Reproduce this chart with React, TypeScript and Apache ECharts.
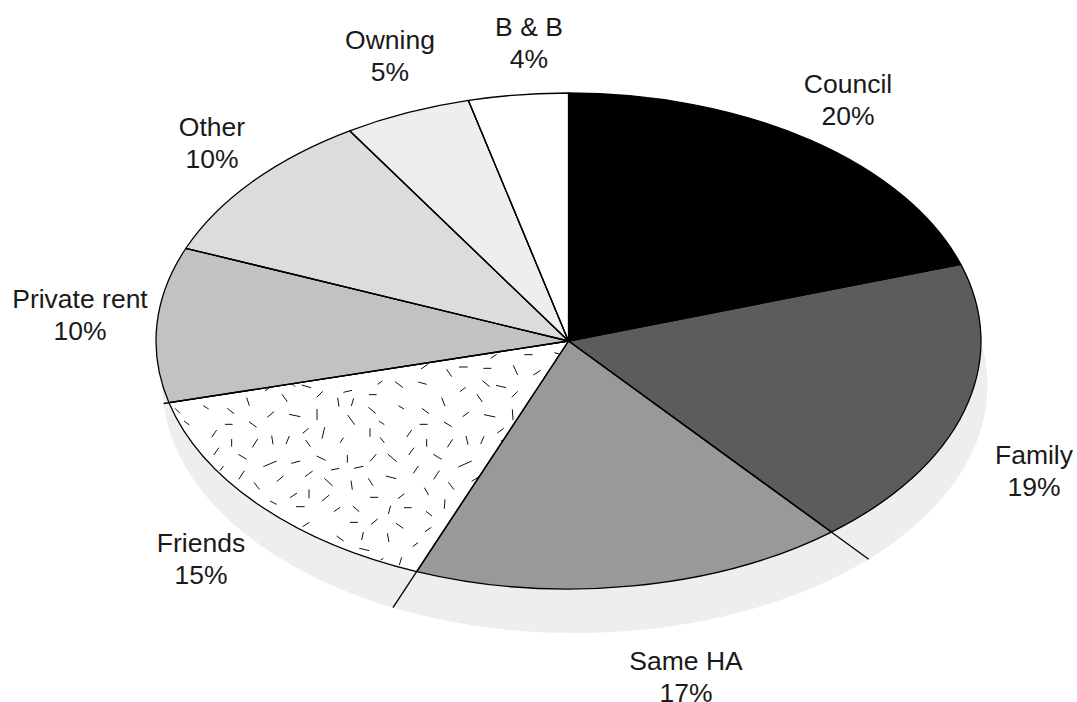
import React, { useEffect, useRef } from "react";
import * as echarts from "echarts";

const categories = ["Council", "Family", "Same HA", "Friends", "Private rent", "Other", "Owning", "B & B"];
// percentages as printed on the labels
const shares = [20, 19, 17, 15, 10, 10, 5, 4];
// unrounded slice sizes as measured from the slice boundaries in the picture
const sliceSizes = [20, 19, 17, 15, 10.1, 10, 5, 3.9];
const fills = ["#000000", "#5c5c5c", "#999999", "TEXTURE", "#c2c2c2", "#dcdcdc", "#eeeeee", "#ffffff"];

// label centres, in page pixels
const labelCentres = [
  [848, 100], [1034, 471], [686, 677], [201, 559], [80, 315], [212, 143], [390, 56], [529, 43],
];

// pie ellipse and its offset shadow
const CX = 568.5, CY = 341, RX = 412.5, RY = 248;
const SHADOW_DX = 6.5, SHADOW_DY = 44;

const textureCropA = { ox: 150, oy: 340 };
const textureDashesA = [
  [813,87,833,73],[683,133,697,123],[735,125,758,142],[805,126,830,133],[580,157,606,151],[657,164,680,164],
  [500,172,518,154],[345,153,360,142],[455,135,483,143],[428,132,435,140],[160,197,176,207],[232,205,252,221],
  [290,173,298,197],[396,163,412,185],[563,173,567,200],[604,198,611,175],[655,202,677,220],[745,197,762,207],
  [875,173,885,198],[816,205,837,221],[352,232,372,215],[417,223,451,230],[501,207,501,240],[593,225,614,254],
  [687,243,703,254],[809,253,833,253],[75,205,90,220],[102,243,118,255],[225,253,248,253],[297,245,320,262],
  [185,292,200,270],[245,297,245,320],[307,322,323,297],[365,287,369,313],[408,312,418,288],[458,280,476,265],
  [467,300,481,320],[516,296,524,262],[570,308,581,293],[660,265,660,290],[690,292,703,308],[770,291,785,270],
  [830,297,830,320],[191,345,207,323],[265,343,290,358],[340,380,380,363],[424,370,451,363],[500,348,527,361],
  [592,345,592,368],[660,364,679,342],[713,342,740,365],[776,345,792,323],[850,343,875,358],[210,392,220,378],
  [266,418,283,392],[543,390,568,385],[612,385,640,379],[790,400,805,378],[851,418,868,392],[380,425,400,408],
  [465,410,488,393],[707,408,739,416],[312,427,328,448],[523,415,548,438],[603,422,607,449],[655,415,669,437],
  [823,443,836,465],[360,483,380,493],[420,473,441,459],[477,448,477,475],[516,483,538,465],[660,472,685,472],
  [744,476,763,461],[438,500,464,500],[552,515,570,502],[608,498,628,515],[715,522,722,497],[762,503,785,503],
  [828,514,846,528],[883,506,885,478],[458,560,478,547],[600,547,624,547],[663,553,683,537],[738,550,760,565],
  [825,575,844,562],[560,588,581,603],[635,600,640,576],[712,580,717,606],[788,620,804,608],[628,625,658,632],
  [692,660,700,655],[748,675,755,652],
];
const textureCropB = { ox: 420, oy: 340 };
const textureDashesB = [
  [80,88,95,110],[72,246,95,260],[82,322,98,298],[85,427,102,449],[212,55,230,43],[313,44,338,44],[403,38,418,42],
  [117,81,143,81],[190,85,214,85],[280,76,293,105],[340,105,362,91],[187,122,209,140],[228,136,258,143],
  [120,155,137,142],[171,163,187,186],[275,172,293,154],[128,230,147,216],[192,224,226,231],[277,208,279,240],
  [232,279,251,265],[243,303,250,300],[138,288,144,314],[182,312,192,289],[115,381,155,363],[203,370,207,366],
  [155,424,178,410],
];
const TILE_SIZE = 700;

function makeTile(): string {
  const c = document.createElement("canvas");
  c.width = TILE_SIZE;
  c.height = TILE_SIZE;
  const g = c.getContext("2d")!;
  g.fillStyle = "#ffffff";
  g.fillRect(0, 0, TILE_SIZE, TILE_SIZE);
  g.strokeStyle = "#111111";
  g.lineWidth = 1;
  const draw = (dashes: number[][], crop: { ox: number; oy: number }) => {
    for (const [a, b, d, e] of dashes) {
      g.beginPath();
      g.moveTo(crop.ox + a / 3, crop.oy + b / 3);
      g.lineTo(crop.ox + d / 3, crop.oy + e / 3);
      g.stroke();
    }
  };
  draw(textureDashesA, textureCropA);
  draw(textureDashesB, textureCropB);
  return c.toDataURL();
}

// how far a slice boundary runs: to the rim, or on to the shadow's edge if that lies beyond it
function boundaryReach(sin: number, cos: number): number {
  const ox = SHADOW_DX / RX, oy = SHADOW_DY / RY;
  const b = sin * ox - cos * oy;
  const c = ox * ox + oy * oy - 1;
  const s = b + Math.sqrt(b * b - c);
  return Math.max(1, s);
}

export default function App() {
  const ref = useRef<HTMLDivElement>(null);
  useEffect(() => {
    document.body.style.margin = "0";
    const chart = echarts.init(ref.current!, undefined, { renderer: "svg" });
    const total = sliceSizes.reduce((a, b) => a + b, 0);
    const tile = makeTile();
    const toAngle = (v: number) => (v / total) * Math.PI * 2;
    const starts = sliceSizes.map((_, i) => sliceSizes.slice(0, i).reduce((a, b) => a + b, 0));

    chart.setOption({
      animation: false,
      tooltip: { show: false },
      series: [
        {
          type: "custom",
          coordinateSystem: "none",
          silent: true,
          z: 1,
          data: [1],
          renderItem: () => ({
            type: "ellipse",
            shape: { cx: CX + SHADOW_DX, cy: CY + SHADOW_DY, rx: RX, ry: RY },
            style: { fill: "#eeeeee", stroke: "none" },
          }),
        },
        {
          type: "custom",
          coordinateSystem: "none",
          silent: true,
          z: 2,
          data: sliceSizes,
          renderItem: (params: any) => {
            const i = params.dataIndex;
            const t0 = toAngle(starts[i]);
            const t1 = toAngle(starts[i] + sliceSizes[i]);
            const px = (t: number) => CX + RX * Math.sin(t);
            const py = (t: number) => CY - RY * Math.cos(t);
            const large = t1 - t0 > Math.PI ? 1 : 0;
            const d = `M${CX} ${CY}L${px(t0)} ${py(t0)}A${RX} ${RY} 0 ${large} 1 ${px(t1)} ${py(t1)}Z`;
            const fill =
              fills[i] === "TEXTURE"
                ? { image: tile, repeat: "repeat", imageWidth: TILE_SIZE, imageHeight: TILE_SIZE }
                : fills[i];
            const reach = boundaryReach(Math.sin(t0), Math.cos(t0));
            return {
              type: "group",
              children: [
                {
                  type: "path",
                  shape: { pathData: d },
                  style: { fill, stroke: "#000000", lineWidth: 1.3, lineJoin: "round" },
                },
                {
                  type: "line",
                  shape: {
                    x1: CX,
                    y1: CY,
                    x2: CX + (px(t0) - CX) * reach,
                    y2: CY + (py(t0) - CY) * reach,
                  },
                  style: { stroke: "#000000", lineWidth: 1.3 },
                },
              ],
            };
          },
        },
        {
          type: "custom",
          coordinateSystem: "none",
          silent: true,
          z: 3,
          data: shares,
          renderItem: (params: any) => {
            const i = params.dataIndex;
            return {
              type: "text",
              style: {
                text: `${categories[i]}\n${shares[i]}%`,
                x: labelCentres[i][0],
                y: labelCentres[i][1],
                align: "center",
                verticalAlign: "middle",
                fontFamily: "Liberation Sans",
                fontSize: 26.5,
                lineHeight: 32,
                fill: "#1a1a1a",
              },
            };
          },
        },
      ],
    });
    return () => chart.dispose();
  }, []);
  return <div ref={ref} style={{ width: 1077, height: 702, overflow: "hidden" }} />;
}
